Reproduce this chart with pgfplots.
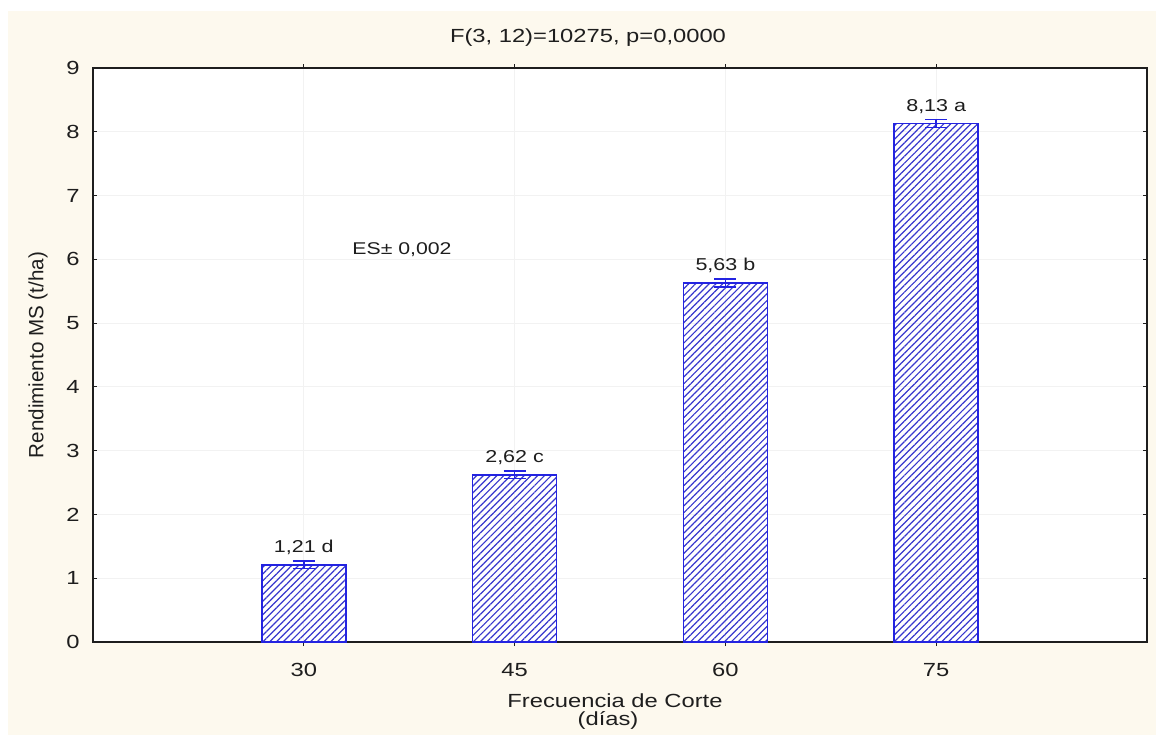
\documentclass[border=0pt]{standalone}
\usepackage{fontspec}
\setmainfont{Liberation Sans}[FakeStretch=1.25]
\newfontfamily\ylabfont{Liberation Sans}
\usepackage{pgfplots}
\pgfplotsset{compat=1.18}
\usepackage{pgfplotstable}
\usetikzlibrary{patterns.meta}
\definecolor{cream}{RGB}{253,249,238}
\definecolor{barblue}{RGB}{35,35,225}
\definecolor{hatchblue}{RGB}{55,55,205}
\definecolor{txt}{RGB}{30,30,30}

\pgfplotstableread[col sep=semicolon]{
x;y;e;lab
1;1.21;0.06;{1,21 d}
2;2.62;0.06;{2,62 c}
3;5.63;0.06;{5,63 b}
4;8.13;0.06;{8,13 a}
}\datatable

\begin{document}
\begin{tikzpicture}
\fill[white] (0,0) rectangle (578pt,367.5pt);
\fill[cream] (4pt,0) rectangle (578pt,362pt);
\begin{axis}[
  at={(46.5pt,46.5pt)}, anchor=south west,
  scale only axis, width=527pt, height=287pt,
  xmin=0, xmax=5, ymin=0, ymax=9,
  xtick={1,2,3,4}, xticklabels={30,45,60,75},
  ytick={0,1,...,9},
  tick align=inside, tick pos=both, major tick length=2pt,
  tick style={txt, line width=0.6pt},
  axis line style={txt, line width=1.1pt},
  axis background/.style={fill=white},
  grid=major, major grid style={gray!10, line width=0.4pt},
  ticklabel style={font=\fontsize{9.5}{11}\selectfont, text=txt},
  /pgf/number format/assume math mode=true,
  xticklabel style={anchor=base, inner sep=0pt, yshift=-15pt},
  yticklabel style={anchor=east, inner sep=0pt, xshift=-6.5pt},
  ybar, bar width=42pt,
  nodes near coords, point meta=explicit symbolic,
  nodes near coords style={anchor=base, inner sep=0pt, yshift=6pt, font=\fontsize{8.6}{10}\selectfont, text=txt},
  clip=false,
]
\addplot[draw=barblue, line width=0.75pt,
  pattern={Lines[angle=45,distance=2.4pt,line width=0.6pt]}, pattern color=hatchblue,
  error bars/.cd, y dir=both, y explicit,
  error bar style={barblue, line width=0.75pt},
  error mark options={rotate=90, barblue, line width=0.75pt, mark size=5.5pt}]
  table[x=x, y=y, y error=e, meta=lab] {\datatable};
\node[anchor=base, font=\fontsize{8.5}{10}\selectfont, text=txt] at (axis cs:1.466,6.07) {ES± 0,002};
\end{axis}
\node[anchor=base, font=\fontsize{9.5}{11}\selectfont, text=txt] at (294pt,346pt) {F(3, 12)=10275, p=0,0000};
\node[anchor=base, font=\fontsize{9.5}{11}\selectfont, text=txt] at (307.5pt,14pt) {Frecuencia de Corte};
\node[anchor=base, font=\fontsize{9.5}{11}\selectfont, text=txt] at (304pt,5pt) {(días)};
\node[rotate=90, font=\ylabfont\fontsize{10.3}{12}\selectfont, text=txt] at (19pt,190pt) {Rendimiento MS (t/ha)};
\pgfresetboundingbox
\useasboundingbox (0,0) rectangle (578pt,367.5pt);
\end{tikzpicture}
\end{document}
